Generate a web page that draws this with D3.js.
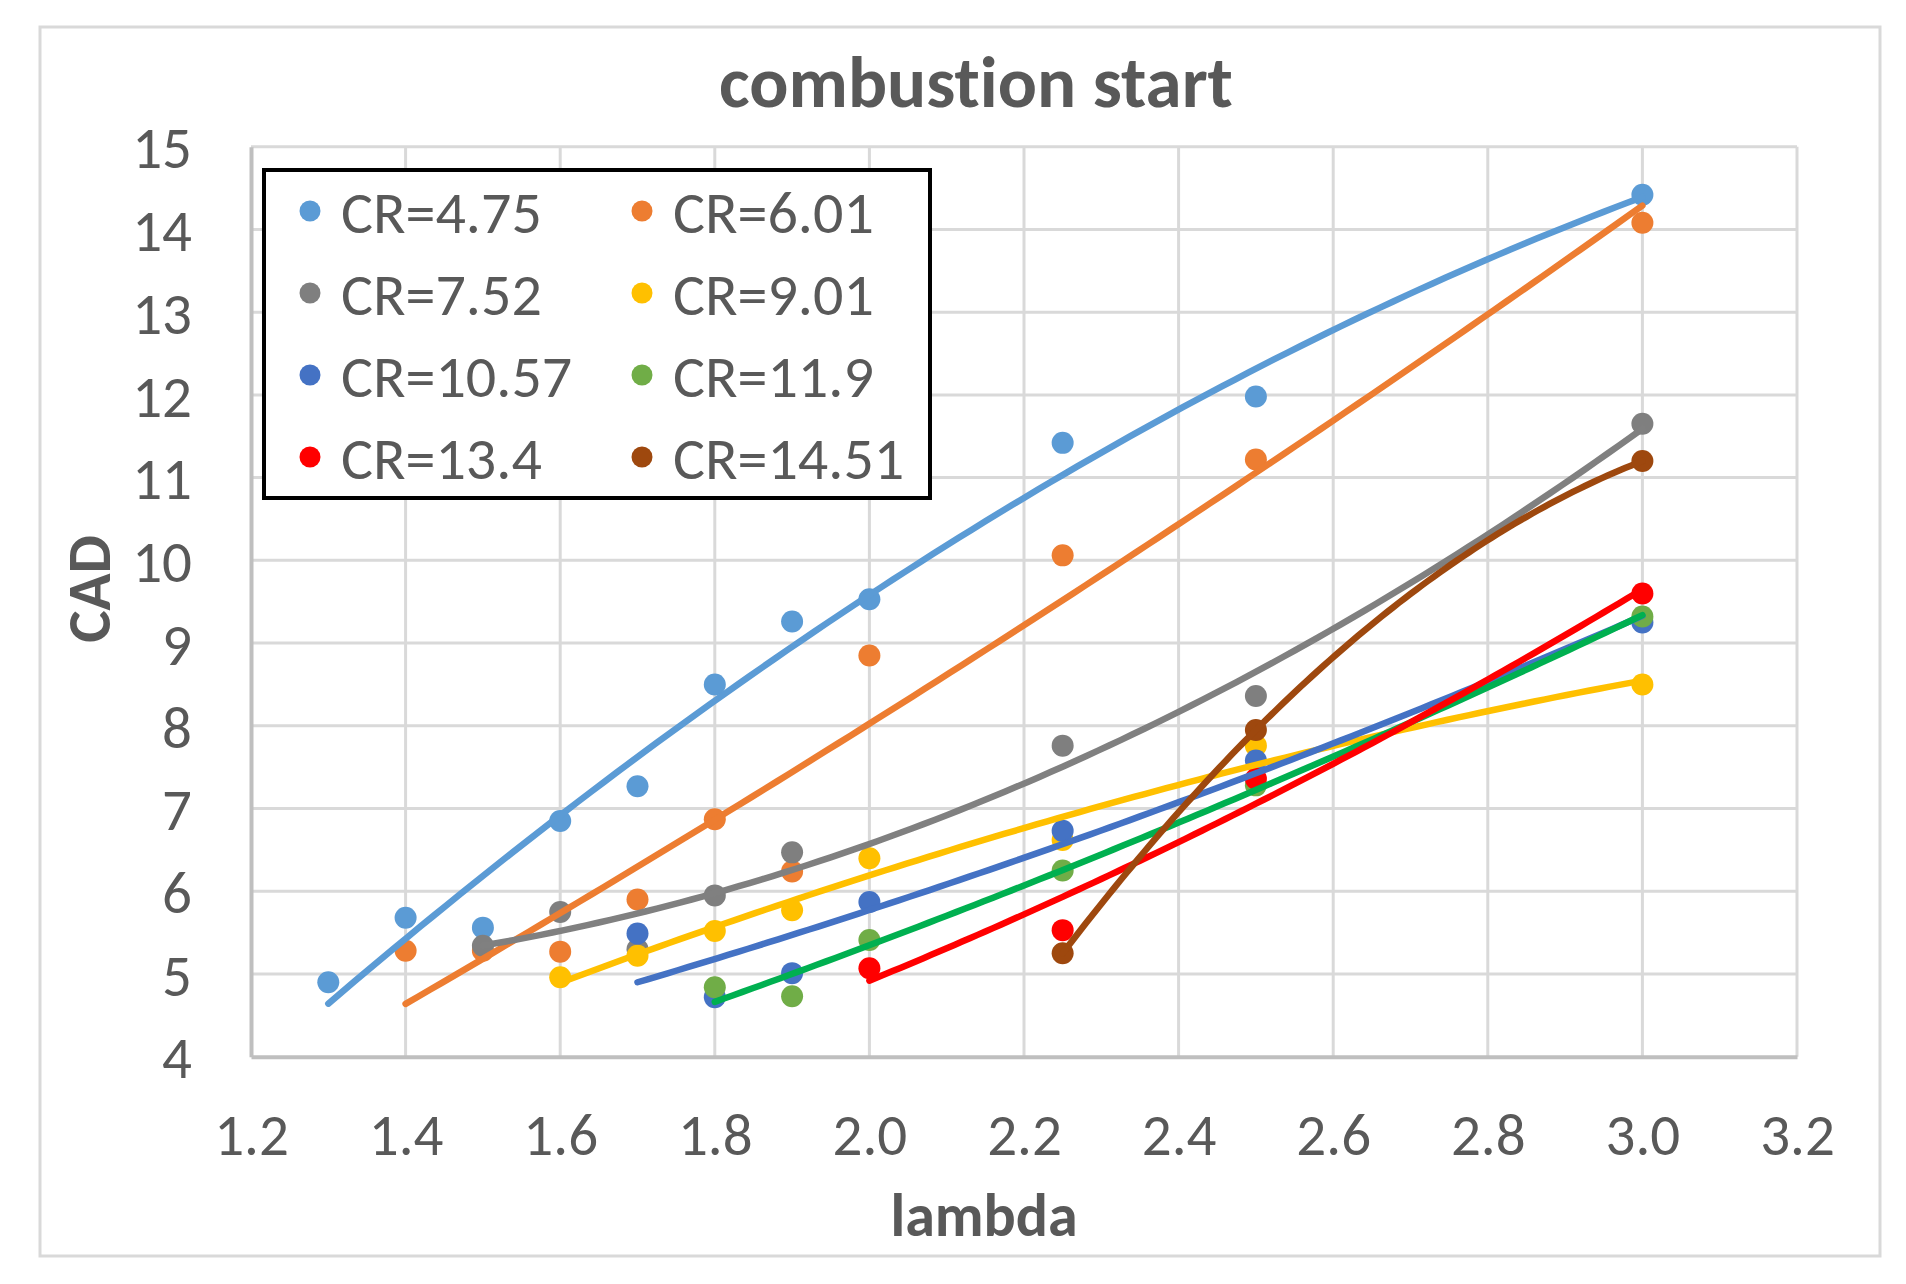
<!DOCTYPE html>
<html>
<head>
<meta charset="utf-8">
<script src="https://cdn.jsdelivr.net/npm/d3@7"></script>
<style>
  body { margin: 0; background: #fff; }
  svg { display: block; }
  text { font-family: Carlito, Calibri, Lato, sans-serif; fill: #595959; font-variant-ligatures: none; }
</style>
</head>
<body>
<div id="chart"></div>
<script>
// chart values
var seriesNames = ['CR=4.75', 'CR=6.01', 'CR=7.52', 'CR=9.01', 'CR=10.57', 'CR=11.9', 'CR=13.4', 'CR=14.51'];
var markerColors = ['#5B9BD5', '#ED7D31', '#7F7F7F', '#FFC000', '#4472C4', '#70AD47', '#FF0000', '#9E480E'];
var trendColors = ['#5B9BD5', '#ED7D31', '#808080', '#FFC000', '#4472C4', '#00B050', '#FF0000', '#9E480E'];

var lambdaCR475 = [1.3, 1.4, 1.5, 1.6, 1.7, 1.8, 1.9, 2.0, 2.25, 2.5, 3.0];
var cadCR475 = [4.9, 5.68, 5.56, 6.85, 7.27, 8.5, 9.26, 9.53, 11.42, 11.98, 14.42];
var lambdaCR601 = [1.4, 1.5, 1.6, 1.7, 1.8, 1.9, 2.0, 2.25, 2.5, 3.0];
var cadCR601 = [5.28, 5.28, 5.27, 5.9, 6.87, 6.24, 8.85, 10.06, 11.22, 14.08];
var lambdaCR752 = [1.5, 1.6, 1.7, 1.8, 1.9, 2.25, 2.5, 3.0];
var cadCR752 = [5.34, 5.75, 5.3, 5.95, 6.47, 7.76, 8.36, 11.65];
var lambdaCR901 = [1.6, 1.7, 1.8, 1.9, 2.0, 2.25, 2.5, 3.0];
var cadCR901 = [4.96, 5.22, 5.52, 5.77, 6.4, 6.62, 7.76, 8.5];
var lambdaCR1057 = [1.7, 1.8, 1.9, 2.0, 2.25, 2.5, 3.0];
var cadCR1057 = [5.49, 4.72, 5.01, 5.87, 6.73, 7.58, 9.25];
var lambdaCR119 = [1.8, 1.9, 2.0, 2.25, 2.5, 3.0];
var cadCR119 = [4.84, 4.73, 5.41, 6.25, 7.28, 9.32];
var lambdaCR134 = [2.0, 2.25, 2.5, 3.0];
var cadCR134 = [5.07, 5.53, 7.36, 9.6];
var lambdaCR1451 = [2.25, 2.5, 3.0];
var cadCR1451 = [5.25, 7.95, 11.2];

var lambdaList = [lambdaCR475, lambdaCR601, lambdaCR752, lambdaCR901, lambdaCR1057, lambdaCR119, lambdaCR134, lambdaCR1451];
var cadList = [cadCR475, cadCR601, cadCR752, cadCR901, cadCR1057, cadCR119, cadCR134, cadCR1451];

var xTicks = [1.2, 1.4, 1.6, 1.8, 2.0, 2.2, 2.4, 2.6, 2.8, 3.0, 3.2];
var yTicks = [4, 5, 6, 7, 8, 9, 10, 11, 12, 13, 14, 15];

//least squares polynomial of order 2 (excel style trendline)
function polyFit(xs, ys){
	var n = 3, A = [], b = [];
	for(var i = 0; i < n; i++){
		A.push([]);
		for(var j = 0; j < n; j++){
			A[i].push(d3.sum(xs, function(x){ return Math.pow(x, i + j); }));
		}
		b.push(d3.sum(xs, function(x, k){ return ys[k] * Math.pow(x, i); }));
	}
	//gauss elimination
	for(var c = 0; c < n; c++){
		for(var r = c + 1; r < n; r++){
			var f = A[r][c] / A[c][c];
			for(var k = c; k < n; k++) A[r][k] -= f * A[c][k];
			b[r] -= f * b[c];
		}
	}
	var coef = [0, 0, 0];
	for(var r = n - 1; r >= 0; r--){
		var s = b[r];
		for(var k = r + 1; k < n; k++) s -= A[r][k] * coef[k];
		coef[r] = s / A[r][r];
	}
	return function(x){ return coef[0] + coef[1] * x + coef[2] * x * x; };
}

var width = 1906, height = 1284;
var margin = {top: 146.7, right: 109, bottom: 227.3, left: 251};
var innerW = width - margin.left - margin.right;
var innerH = height - margin.top - margin.bottom;

var svg = d3.select('#chart').append('svg')
	.attr('width', width)
	.attr('height', height);

//outer chart border
svg.append('rect')
	.attr('x', 40).attr('y', 27)
	.attr('width', 1840).attr('height', 1229)
	.attr('fill', '#fff')
	.attr('stroke', '#d9d9d9')
	.attr('stroke-width', 3);

var x = d3.scaleLinear().domain([1.2, 3.2]).range([0, innerW]);
var y = d3.scaleLinear().domain([4, 15]).range([innerH, 0]);

var plot = svg.append('g')
	.attr('transform', 'translate(' + margin.left + ',' + margin.top + ')');

//gridlines
plot.append('g').selectAll('line').data(xTicks.slice(1)).enter().append('line')
	.attr('x1', function(d){ return x(d); }).attr('x2', function(d){ return x(d); })
	.attr('y1', 0).attr('y2', innerH)
	.attr('stroke', '#d9d9d9').attr('stroke-width', 3);
plot.append('g').selectAll('line').data(yTicks.slice(1)).enter().append('line')
	.attr('x1', 0).attr('x2', innerW)
	.attr('y1', function(d){ return y(d); }).attr('y2', function(d){ return y(d); })
	.attr('stroke', '#d9d9d9').attr('stroke-width', 3);

//axes
var xAxis = plot.append('g')
	.attr('transform', 'translate(0,' + innerH + ')')
	.call(d3.axisBottom(x).tickValues(xTicks).tickFormat(d3.format('.1f')).tickSize(0).tickPadding(56));
var yAxis = plot.append('g')
	.call(d3.axisLeft(y).tickValues(yTicks).tickFormat(d3.format('d')).tickSize(0).tickPadding(59));
[xAxis, yAxis].forEach(function(a){
	a.select('.domain').attr('stroke', '#bfbfbf').attr('stroke-width', 4);
	a.selectAll('text').attr('font-size', 59).attr('fill', '#595959').style('font-family', null);
});
yAxis.selectAll('text').attr('dy', '0.36em');

//markers for all series first
lambdaList.forEach(function(xs, i){
	plot.append('g').selectAll('circle').data(xs).enter().append('circle')
		.attr('cx', function(d){ return x(d); })
		.attr('cy', function(d, k){ return y(cadList[i][k]); })
		.attr('r', 11)
		.attr('fill', markerColors[i]);
});

//trendlines on top
var line = d3.line()
	.x(function(d){ return x(d[0]); })
	.y(function(d){ return y(d[1]); });
lambdaList.forEach(function(xs, i){
	var fit = polyFit(xs, cadList[i]);
	var x0 = d3.min(xs), x1 = d3.max(xs);
	var pts = d3.range(0, 101).map(function(t){
		var xv = x0 + (x1 - x0) * t / 100;
		return [xv, fit(xv)];
	});
	plot.append('path')
		.attr('d', line(pts))
		.attr('fill', 'none')
		.attr('stroke', trendColors[i])
		.attr('stroke-width', 6.5)
		.attr('stroke-linecap', 'round');
});

//title and axis titles
svg.append('text')
	.attr('x', 976).attr('y', 107)
	.attr('text-anchor', 'middle')
	.attr('font-size', 73).attr('font-weight', 'bold')
	.text('combustion start');
svg.append('text')
	.attr('x', 984).attr('y', 1236)
	.attr('text-anchor', 'middle')
	.attr('font-size', 60).attr('font-weight', 'bold')
	.text('lambda');
svg.append('text')
	.attr('transform', 'translate(110,589) rotate(-90)')
	.attr('text-anchor', 'middle')
	.attr('font-size', 61).attr('font-weight', 'bold')
	.text('CAD');

//legend
var legend = svg.append('g').attr('transform', 'translate(264,170)');
legend.append('rect')
	.attr('width', 666).attr('height', 328)
	.attr('fill', '#fff')
	.attr('stroke', '#000')
	.attr('stroke-width', 4);
var items = legend.selectAll('g.item').data(seriesNames).enter().append('g')
	.attr('class', 'item')
	.attr('transform', function(d, i){
		return 'translate(' + (i % 2 === 0 ? 46 : 378) + ',' + (41 + Math.floor(i / 2) * 82) + ')';
	});
items.append('circle')
	.attr('r', 10.5)
	.attr('fill', function(d, i){ return markerColors[i]; });
items.append('text')
	.attr('x', 31).attr('dy', '0.36em')
	.attr('font-size', 60)
	.text(function(d){ return d; });
</script>
</body>
</html>
